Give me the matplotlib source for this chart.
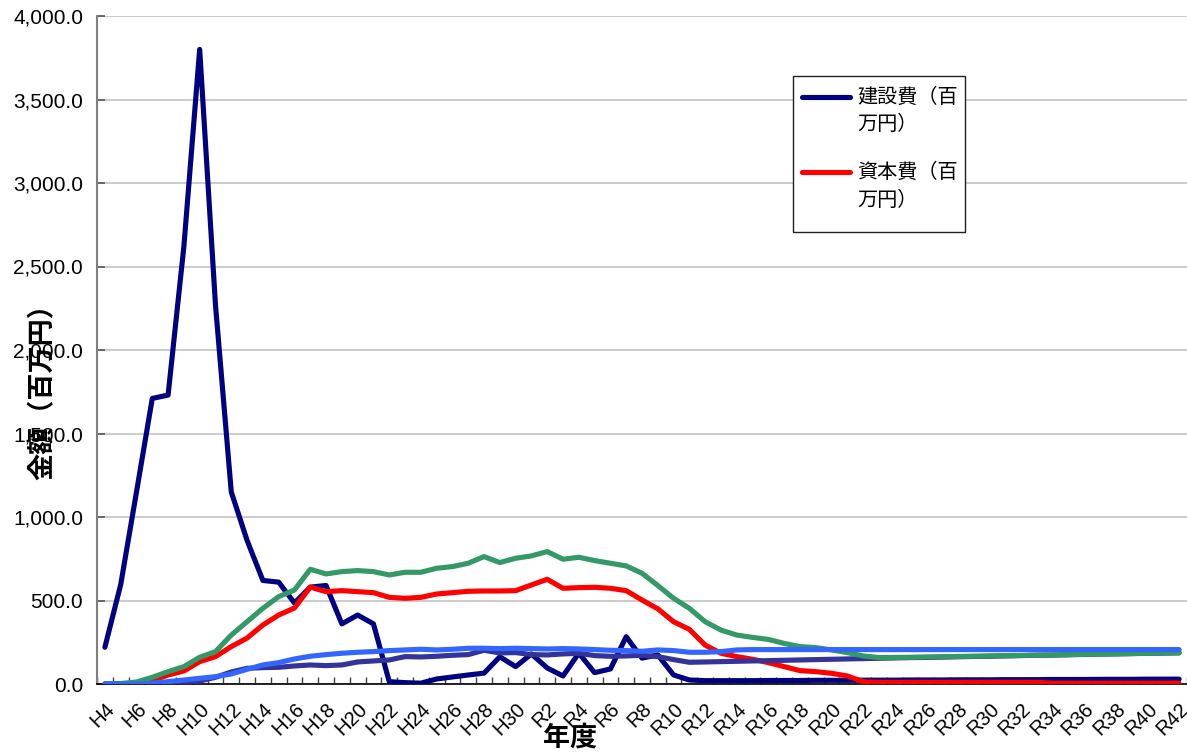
import numpy as np
import matplotlib
matplotlib.use("Agg")
import matplotlib.pyplot as plt
from matplotlib.lines import Line2D
from matplotlib.patches import Rectangle
from matplotlib.ticker import FuncFormatter
from matplotlib.transforms import ScaledTranslation

CJK = ["Noto Sans CJK JP", "DejaVu Sans"]

# Fiscal years H4 .. H31(R1) .. R42
years = [f"H{n}" for n in range(4, 32)] + [f"R{n}" for n in range(2, 43)]
years[27] = "R1"

construction = [220, 595, 1150, 1710, 1730, 2620, 3800, 2270, 1150, 860,
                 620, 610, 485, 580, 590, 360, 413, 360, 14, 8,
                 5, 30, 42, 54, 65, 163, 104, 180, 96, 48,
                 185, 68, 90, 283, 155, 174, 54, 24,
                 20, 20, 20, 20, 21, 21, 21, 22, 22, 22, 23, 23, 23, 24, 24, 24,
                 25, 25, 25, 26, 26, 26, 27, 27, 27, 28, 28, 28, 29, 29, 29]

capital = [0, 0, 5, 20, 54, 78, 134, 164, 224, 275,
           353, 413, 455, 580, 553, 559, 553, 547, 519, 513,
           519, 539, 547, 555, 557, 557, 559, 593, 627, 573,
           577, 579, 573, 559, 503, 450, 373, 327, 233, 184,
           164, 148, 128, 104, 80, 74, 64, 48, 14,
           10, 10, 10, 10, 10, 10, 10, 10, 10, 10, 10,
           5, 5, 5, 5, 5, 5, 5, 5, 5]

total_cost = [0, 3, 12, 40, 74, 104, 160, 194, 293, 373,
              453, 523, 563, 687, 659, 673, 679, 673, 653, 669,
              669, 693, 703, 723, 763, 727, 753, 767, 793, 747,
              759, 739, 723, 707, 663, 590, 513, 453, 373, 323,
              293, 279, 267, 243, 224, 218, 204, 188, 168, 158,
              159, 160, 162, 163, 165, 166, 168, 170, 171, 173,
              174, 176, 178, 179, 181, 182, 184, 186, 188]

depreciation = [0, 0, 0, 0, 0, 5, 18, 40, 72, 94,
                98, 100, 108, 114, 110, 114, 132, 138, 144, 164,
                162, 166, 172, 176, 202, 186, 188, 176, 174, 180,
                184, 170, 166, 168, 172, 164, 146, 130, 132, 134,
                136, 138, 140, 142, 144, 146, 148, 150, 152, 154,
                156, 158, 159, 161, 163, 165, 166, 168, 170, 172,
                173, 175, 177, 179, 180, 182, 184, 185, 186]

revenue = [0, 0, 0, 5, 14, 24, 34, 44, 60, 88,
           114, 128, 150, 166, 176, 184, 190, 194, 200, 204,
           208, 204, 208, 214, 214, 212, 214, 212, 210, 212,
           210, 206, 202, 200, 196, 204, 200, 190, 190, 194,
           204] + [206] * 28

x = np.arange(len(years))

fig = plt.figure(figsize=(11.87, 7.55), dpi=100)
ax = fig.add_axes([97 / 1187, 71 / 755, 1090 / 1187, 668 / 755])

lw = 3.7
ax.plot(x, construction, color="#000080", lw=lw, solid_capstyle="round", zorder=3)
ax.plot(x, capital, color="#FF0000", lw=lw, solid_capstyle="round", zorder=4)
ax.plot(x, depreciation, color="#333399", lw=lw, solid_capstyle="round", zorder=5)
ax.plot(x, total_cost, color="#339966", lw=lw, solid_capstyle="round", zorder=6)
ax.plot(x, revenue, color="#3366FF", lw=lw, solid_capstyle="round", zorder=7)

ax.set_xlim(-0.5, len(years) - 0.5)
ax.set_ylim(0, 4000)
ax.set_yticks(np.arange(0, 4001, 500))
ax.yaxis.set_major_formatter(FuncFormatter(lambda v, p: f"{v:,.1f}"))
ax.grid(axis="y", color="#C8C8C8", lw=1.3, zorder=0)
ax.set_axisbelow(True)

ax.set_xticks(x[::2])
ax.set_xticklabels(years[::2], rotation=45, ha="right", va="top",
                   rotation_mode="anchor", fontsize=14.5, family="Liberation Sans")
shift = ScaledTranslation(-6 / 100, 0, fig.dpi_scale_trans)
for lab in ax.get_xticklabels():
    lab.set_transform(lab.get_transform() + shift)
ax.set_xticks(np.arange(-0.5, len(years), 1), minor=True)
ax.tick_params(axis="x", which="major", length=0, pad=11)
ax.tick_params(axis="x", which="minor", direction="in", length=5, color="#404040", width=1)
ax.tick_params(axis="y", direction="in", length=6, color="#606060", width=1.3,
               labelsize=15, pad=10)
for lab in ax.get_yticklabels():
    lab.set_family("Liberation Sans")

for s in ("top", "right"):
    ax.spines[s].set_visible(False)
ax.spines["left"].set_color("#808080")
ax.spines["left"].set_linewidth(1.5)
ax.spines["bottom"].set_color("#000000")
ax.spines["bottom"].set_linewidth(1.2)

# Axis titles
fig.text(42 / 1187, 1 - 385 / 755, "金額（百万円）", rotation=90, ha="center", va="center",
         fontsize=19.5, fontweight="bold", family=CJK)
fig.text(570 / 1187, 1 - 738 / 755, "年度", ha="center", va="center",
         fontsize=19.5, fontweight="bold", family=CJK)

# Legend box
W, H = 1187.0, 755.0
fig.add_artist(Rectangle((793 / W, 1 - 232 / H), (965 - 793) / W, (232 - 76) / H,
                         transform=fig.transFigure, facecolor="white",
                         edgecolor="#202020", lw=1.0, zorder=10))
entries = [("#000080", "建設費（百", "万円）", 97),
           ("#FF0000", "資本費（百", "万円）", 172)]
for col, l1, l2, yy in entries:
    fig.add_artist(Line2D([802 / W, 850 / W], [1 - yy / H, 1 - yy / H],
                          transform=fig.transFigure, color=col, lw=lw,
                          solid_capstyle="round", zorder=11))
    fig.text(857 / W, 1 - yy / H, l1, ha="left", va="center", fontsize=14.5,
             family=CJK, zorder=11)
    fig.text(857 / W, 1 - (yy + 28) / H, l2, ha="left", va="center", fontsize=14.5,
             family=CJK, zorder=11)

fig.savefig("out.png", dpi=100)
